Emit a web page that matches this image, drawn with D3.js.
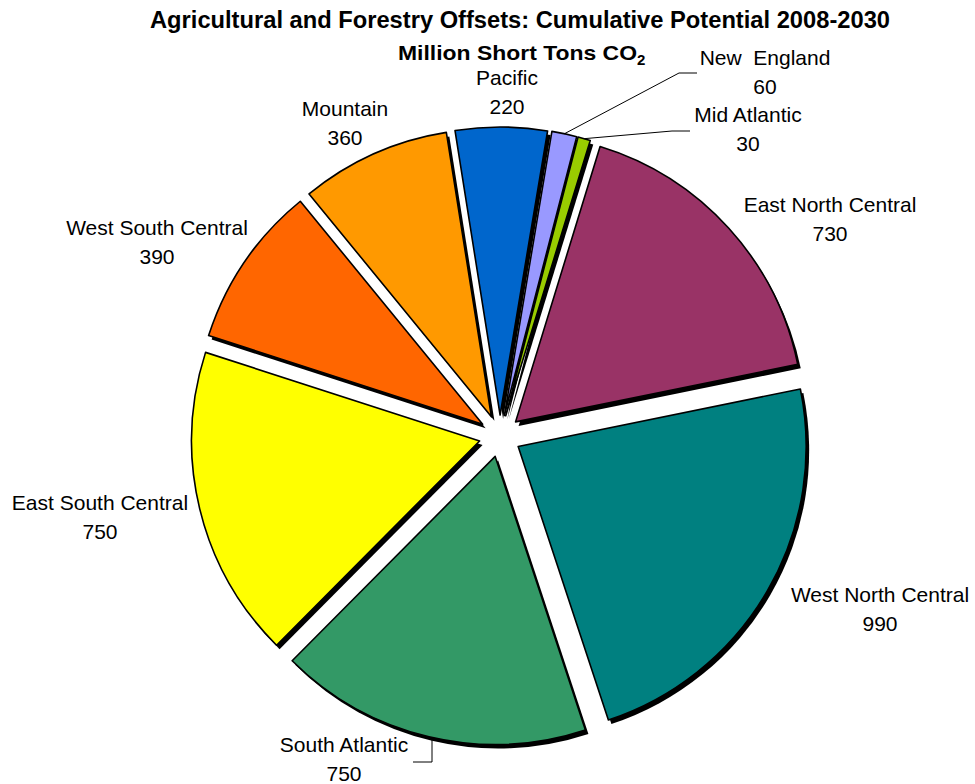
<!DOCTYPE html>
<html>
<head>
<meta charset="utf-8">
<script src="https://cdn.jsdelivr.net/npm/d3@7"></script>
<style>
  html, body { margin: 0; padding: 0; background: #fff; }
  svg { display: block; }
  text { font-family: "Liberation Sans", Arial, sans-serif; fill: #000; }
</style>
</head>
<body>
<svg id="chart" width="975" height="784"></svg>
<script>
// ---- data ----
const categories = ["New England", "Mid Atlantic", "East North Central", "West North Central",
  "South Atlantic", "East South Central", "West South Central", "Mountain", "Pacific"];
const labelNames = ["New  England", "Mid Atlantic", "East North Central", "West North Central",
  "South Atlantic", "East South Central", "West South Central", "Mountain", "Pacific"];
const values = [60, 30, 730, 990, 750, 750, 390, 360, 220];
const colors = ["#9999FF", "#99CC00", "#993366", "#008080", "#339966",
  "#FFFF00", "#FF6600", "#FF9900", "#0066CC"];
const titleText = "Agricultural and Forestry Offsets: Cumulative Potential 2008-2030";
const subtitleText = "Million Short Tons CO";

// ---- layout ----
const W = 975, H = 784;
const cx = 500, cy = 436, R = 288, explode = 21;
const rot = 9.5 * Math.PI / 180;
const shadowDx = 3, shadowDy = 4;

// label anchor positions (center x, first baseline y)
const labelPos = {
  "New England": [765, 65],
  "Mid Atlantic": [748, 122],
  "East North Central": [830, 212],
  "West North Central": [880, 602],
  "South Atlantic": [344, 752],
  "East South Central": [100, 510],
  "West South Central": [157, 235],
  "Mountain": [345, 116],
  "Pacific": [507, 85]
};

const svg = d3.select("#chart");

// Title
svg.append("text")
  .attr("x", 520).attr("y", 28)
  .attr("text-anchor", "middle")
  .attr("font-size", 23).attr("font-weight", "bold")
  .attr("textLength", 740).attr("lengthAdjust", "spacingAndGlyphs")
  .text(titleText);

const sub = svg.append("text")
  .attr("x", 398).attr("y", 60)
  .attr("font-size", 21).attr("font-weight", "bold");
sub.append("tspan").text(subtitleText)
  .attr("textLength", 239).attr("lengthAdjust", "spacingAndGlyphs");
sub.append("tspan").attr("dy", 5).attr("font-size", 15).text("2");

const pie = d3.pie().sort(null).value(d => d.value)
  .startAngle(rot).endAngle(rot + 2 * Math.PI);
const data = categories.map((c, i) => ({ name: c, label: labelNames[i], value: values[i], color: colors[i] }));
const arcs = pie(data);
const arc = d3.arc().innerRadius(0).outerRadius(R);

function offset(a) {
  const m = (a.startAngle + a.endAngle) / 2;
  return [cx + explode * Math.sin(m), cy - explode * Math.cos(m)];
}

const gShadow = svg.append("g");
gShadow.selectAll("path").data(arcs).join("path")
  .attr("transform", d => { const o = offset(d); return `translate(${o[0] + shadowDx},${o[1] + shadowDy})`; })
  .attr("d", arc)
  .attr("fill", "#000");

const gSlices = svg.append("g");
gSlices.selectAll("path").data(arcs).join("path")
  .attr("transform", d => { const o = offset(d); return `translate(${o[0]},${o[1]})`; })
  .attr("d", arc)
  .attr("fill", d => d.data.color)
  .attr("stroke", "#000")
  .attr("stroke-width", 1.6)
  .attr("stroke-linejoin", "round");

// leader lines
function arcPoint(a, angle, r) {
  const o = offset(a);
  return [o[0] + r * Math.sin(angle), o[1] - r * Math.cos(angle)];
}
const byName = {};
arcs.forEach(a => byName[a.data.name] = a);
const lines = svg.append("g").attr("stroke", "#000").attr("stroke-width", 1).attr("fill", "none");
{
  const a = byName["New England"]; const m = (a.startAngle + a.endAngle) / 2;
  const p = arcPoint(a, m, R);
  lines.append("polyline").attr("points", [p, [679, 73], [697, 73]].map(q => q.join(",")).join(" "));
}
{
  const a = byName["Mid Atlantic"]; const m = (a.startAngle + a.endAngle) / 2;
  const p = arcPoint(a, m, R);
  lines.append("polyline").attr("points", [p, [672, 131], [690, 131]].map(q => q.join(",")).join(" "));
}
{
  const a = byName["South Atlantic"];
  const o = offset(a);
  const ang = Math.PI + Math.asin((o[0] - 432) / R);
  const p = arcPoint(a, ang, R);
  lines.append("polyline").attr("points", [p, [p[0], 762], [413, 762]].map(q => q.join(",")).join(" "));
}

// labels
const gLabels = svg.append("g");
arcs.forEach(a => {
  const pos = labelPos[a.data.name];
  const t = gLabels.append("text")
    .attr("text-anchor", "middle")
    .attr("font-size", 21)
    .style("white-space", "pre");
  t.append("tspan").attr("x", pos[0]).attr("y", pos[1]).text(a.data.label);
  t.append("tspan").attr("x", pos[0]).attr("y", pos[1] + 29).text(String(a.data.value));
});
</script>
</body>
</html>
